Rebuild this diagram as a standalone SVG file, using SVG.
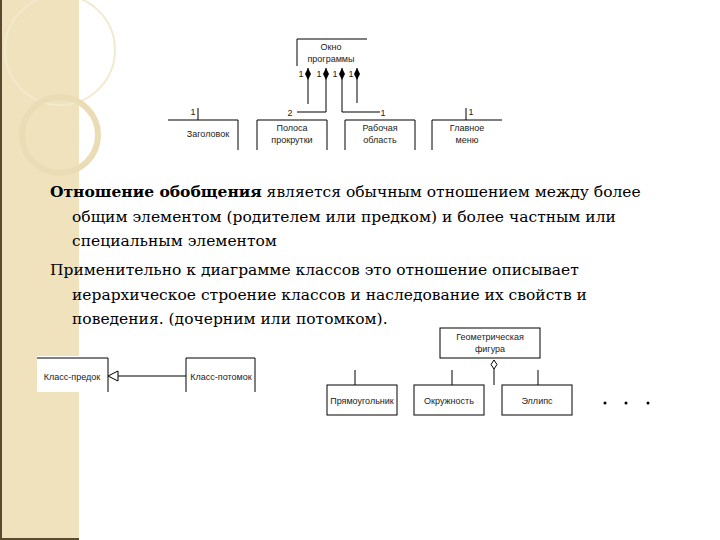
<svg xmlns="http://www.w3.org/2000/svg" width="720" height="540" viewBox="0 0 720 540">
<style>
.l{stroke:#000;stroke-width:1;fill:none}
.s{font-family:"Liberation Sans",Arial,sans-serif;font-size:9px;fill:#222;text-anchor:middle}
.p{font-size:15.5px;fill:#000}
</style>
<defs>
<marker id="a" markerWidth="12" markerHeight="6" refX="12" refY="3" orient="auto" markerUnits="userSpaceOnUse" viewBox="0 0 12 6"><path d="M0 3 L6 0 L12 3 L6 6Z" fill="#000"/></marker>
</defs>
<rect width="720" height="540" fill="#fff"/>
<g id="band">
<rect x="0" y="0" width="79" height="540" fill="#EFE2BD"/>
<circle cx="60" cy="50" r="55" fill="none" stroke="#F3E9CE" stroke-width="2"/>
<circle cx="60" cy="135" r="38" fill="none" stroke="#EADCB5" stroke-width="6"/>
<line x1="1" y1="0" x2="1" y2="540" stroke="#5a4a30" stroke-width="2"/>
<line x1="0" y1="539" x2="79" y2="539" stroke="#5a4a30" stroke-width="2"/>
</g>
<g id="okno"><path class="l" d="M297 66V39H367"/><text class="s" x="331" y="50">Окно</text><text class="s" x="331" y="62">программы</text>
<text class="s" x="301" y="77">1</text><text class="s" x="319" y="77">1</text><text class="s" x="335" y="77">1</text><text class="s" x="351" y="77">1</text></g>
<g id="zag"><path class="l" d="M168 120H238V150M198 108V120"/><text class="s" x="193" y="115">1</text><text class="s" x="208" y="137">Заголовок</text></g>
<g id="pol"><path class="l" d="M257 150V120H327V150"/><text class="s" x="290" y="116">2</text><text class="s" x="292" y="131">Полоса</text><text class="s" x="292" y="143">прокрутки</text></g>
<g id="rab"><path class="l" d="M345 150V120H415V150"/><text class="s" x="383" y="116">1</text><text class="s" x="380" y="131">Рабочая</text><text class="s" x="380" y="143">область</text></g>
<g id="men"><path class="l" d="M432 150V120H502M466 108V120"/><text class="s" x="471" y="115">1</text><text class="s" x="467" y="131">Главное</text><text class="s" x="467" y="143">меню</text></g>
<g id="connectors">
<path class="l" d="M308 104V68" marker-end="url(#a)"/>
<path class="l" d="M297 112H326V68" marker-end="url(#a)"/>
<path class="l" d="M380 112H342V68" marker-end="url(#a)"/>
<path class="l" d="M357 103V68" marker-end="url(#a)"/>
<path class="l" d="M118 376H186"/>
<path d="M108 376L118 371V381Z" fill="#fff" stroke="#000"/>
<path class="l" d="M494 369V385M355 370V385M452 370V385M538 370V385"/>
<path d="M494 360L497 364.5L494 369L491 364.5Z" fill="#fff" stroke="#000"/>
</g>
<g id="text" font-family="DejaVu Serif, Liberation Serif, serif">
<text class="p" x="50" y="197"><tspan font-weight="bold">Отношение обобщения</tspan> является обычным отношением между более</text>
<text class="p" x="72" y="222">общим элементом (родителем или предком) и более частным или</text>
<text class="p" x="72" y="246">специальным элементом</text>
<text class="p" x="50" y="275">Применительно к диаграмме классов это отношение описывает</text>
<text class="p" x="72" y="300">иерархическое строение классов и наследование их свойств и</text>
<text class="p" x="72" y="324">поведения. (дочерним или потомком).</text>
</g>
<g id="predok"><rect x="37" y="356" width="71" height="36" fill="#fff"/><path class="l" d="M37 358H108V392"/><text class="s" x="72" y="380">Класс-предок</text></g>
<g id="potomok"><path class="l" d="M186 392V358H255V392"/><text class="s" x="221" y="380">Класс-потомок</text></g>
<g id="geo"><rect class="l" x="440" y="328" width="100" height="30"/><text class="s" x="490" y="340">Геометрическая</text><text class="s" x="490" y="352">фигура</text></g>
<g id="pr"><rect class="l" x="327" y="385" width="70" height="30"/><text class="s" x="362" y="404">Прямоугольник</text></g>
<g id="ok"><rect class="l" x="414" y="385" width="70" height="30"/><text class="s" x="449" y="404">Окружность</text></g>
<g id="el"><rect class="l" x="502" y="385" width="70" height="30"/><text class="s" x="537" y="404">Эллипс</text></g>
<g id="dots" fill="#000"><circle cx="605" cy="403" r="1.5"/><circle cx="626" cy="403" r="1.5"/><circle cx="648" cy="403" r="1.5"/></g>
</svg>
